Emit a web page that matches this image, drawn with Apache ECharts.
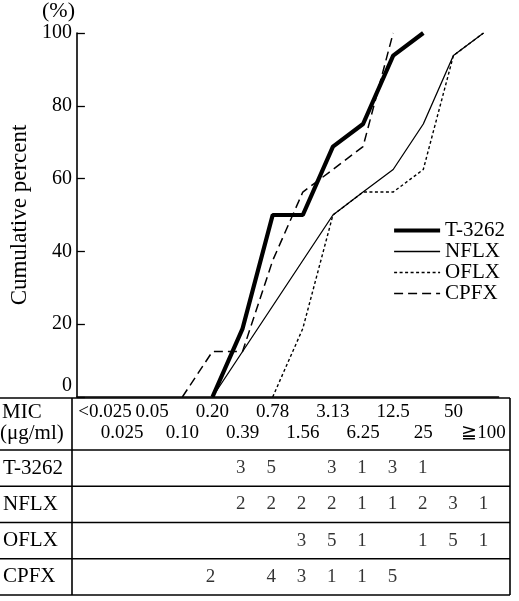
<!DOCTYPE html>
<html><head><meta charset="utf-8">
<script src="https://cdn.jsdelivr.net/npm/echarts@6/dist/echarts.min.js"></script>
<style>html,body{margin:0;padding:0;background:#fff}#c{width:519px;height:601px}</style>
</head><body><div id="c"></div>
<script>
// MIC categories (µg/ml)
const categories = ['<0.025','0.025','0.05','0.10','0.20','0.39','0.78','1.56','3.13','6.25','12.5','25','50','≧100'];
// Cumulative percent
const pctT3262 = [null,null,null,null,0,18.8,50,50,68.8,75,93.8,100,null,null];
const pctNFLX  = [null,null,null,null,0,12.5,25,37.5,50,56.3,62.5,75,93.8,100];
const pctOFLX  = [null,null,null,null,null,null,0,18.8,50,56.3,56.3,62.5,93.8,100];
const pctCPFX  = [null,null,null,0,12.5,12.5,37.5,56.3,62.5,68.8,100,null,null,null];
// Number of strains per MIC (table)
const drugNames = ['T-3262','NFLX','OFLX','CPFX'];
const cntT3262 = [0,0,0,0,0,3,5,0,3,1,3,1,0,0];
const cntNFLX  = [0,0,0,0,0,2,2,2,2,1,1,2,3,1];
const cntOFLX  = [0,0,0,0,0,0,0,3,5,1,0,1,5,1];
const cntCPFX  = [0,0,0,0,2,0,4,3,1,1,5,0,0,0];
const yTicks = [0,20,40,60,80,100];

const FONT = "'Liberation Serif','DejaVu Serif',serif";
const counts = [cntT3262, cntNFLX, cntOFLX, cntCPFX];
const tableData = [];
counts.forEach((arr, r) => arr.forEach((v, i) => { if (v > 0) tableData.push([categories[i], drugNames[r], v]); }));

const styles = [
  {color: '#000', width: 4.2, type: 'solid'},
  {color: '#000', width: 1.3, type: 'solid'},
  {color: '#000', width: 1.4, type: [3, 2.5]},
  {color: '#000', width: 1.5, type: [9, 5]}
];
const pcts = [pctT3262, pctNFLX, pctOFLX, pctCPFX];

const L = 73, W = 425.6, TOP = 33, PB = 397, TT = 450, TB = 595, TR = 510;
const lineG = (x1,y1,x2,y2) => ({type:'line', shape:{x1,y1,x2,y2}, style:{stroke:'#000', lineWidth:1.6}, silent:true});

const chart = echarts.init(document.getElementById('c'), null, {renderer:'canvas'});
chart.setOption({
  animation: false,
  backgroundColor: '#fff',
  textStyle: {fontFamily: FONT, color: '#000'},
  title: {text: '(%)', left: 42, top: 0, padding: 0, textStyle: {fontFamily: FONT, fontSize: 22, fontWeight: 'normal', color: '#000'}},
  legend: {
    data: drugNames.map((n, i) => ({name: n, lineStyle: styles[i], itemStyle: {opacity: 0}})),
    orient: 'vertical', left: 392, top: 220, padding: 0, itemWidth: 46, itemHeight: 10, itemGap: 0,
    itemStyle: {opacity: 0},
    textStyle: {fontFamily: FONT, fontSize: 21, color: '#000', lineHeight: 21}
  },
  grid: [
    {left: L, top: TOP, width: W, height: PB - TOP},
    {left: L, top: TT, width: W, height: TB - TT}
  ],
  xAxis: [
    {type: 'category', gridIndex: 0, data: categories, boundaryGap: true,
     axisLine: {lineStyle: {color: '#000', width: 1.6}},
     axisTick: {inside: true, alignWithLabel: true, interval: 0, length: 8, lineStyle: {color: '#000', width: 1.3}},
     axisLabel: {interval: 0, margin: 5, color: '#000', fontFamily: FONT, fontSize: 19, lineHeight: 21, hideOverlap: false,
       formatter: (v, i) => i === 0 ? '{f|' + v + '}' : (i % 2 === 0 ? v : '\n' + v),
       rich: {f: {fontFamily: FONT, fontSize: 19, lineHeight: 21, padding: [0,0,0,26], color: '#000'}}},
     splitLine: {show: false}},
    {type: 'category', gridIndex: 1, data: categories, boundaryGap: true, show: false}
  ],
  yAxis: [
    {type: 'value', gridIndex: 0, min: 0, max: 100, interval: 20,
     name: 'Cumulative percent', nameLocation: 'middle', nameGap: 44, nameRotate: 90,
     nameTextStyle: {fontFamily: FONT, fontSize: 23, color: '#000'},
     axisLine: {show: true, lineStyle: {color: '#000', width: 1.6}},
     axisTick: {show: true, inside: true, length: 8, lineStyle: {color: '#000', width: 1.3}},
     axisLabel: {margin: 5, color: '#000', fontFamily: FONT, fontSize: 20,
       formatter: v => v === 0 ? '{z|0}' : String(v),
       rich: {z: {fontFamily: FONT, fontSize: 20, color: '#000', padding: [0,0,22,0]}}},
     splitLine: {show: false}},
    {type: 'category', gridIndex: 1, data: drugNames, inverse: true, boundaryGap: true,
     axisLine: {show: false}, axisTick: {show: false}, splitLine: {show: false},
     axisLabel: {align: 'left', margin: 71, color: '#000', fontFamily: FONT, fontSize: 21}}
  ],
  series: drugNames.map((n, i) => ({
    name: n, type: 'line', data: pcts[i], symbol: 'none', lineStyle: styles[i], itemStyle: {color: '#000'}
  })).concat([
    {name: 'table', type: 'scatter', xAxisIndex: 1, yAxisIndex: 1, data: tableData, symbol: 'rect', symbolSize: 1,
     itemStyle: {color: 'transparent'},
     label: {show: true, position: 'inside', formatter: p => String(p.value[2]), color: '#000', fontFamily: FONT, fontSize: 19}}
  ]),
  graphic: [
    lineG(0, PB + 1, TR, PB + 1),
    lineG(0, TT, TR, TT),
    lineG(0, TT + 36.25, TR, TT + 36.25),
    lineG(0, TT + 72.5, TR, TT + 72.5),
    lineG(0, TT + 108.75, TR, TT + 108.75),
    lineG(0, TB, TR, TB),
    lineG(L - 1, PB + 1, L - 1, TB),
    lineG(TR, PB + 1, TR, TB),
    {type: 'text', left: 2, top: 402, style: {text: 'MIC', fontFamily: FONT, fontSize: 21, fill: '#000'}},
    {type: 'text', left: 0, top: 423, style: {text: '(μg/ml)', fontFamily: FONT, fontSize: 21, fill: '#000'}}
  ]
});
</script></body></html>
